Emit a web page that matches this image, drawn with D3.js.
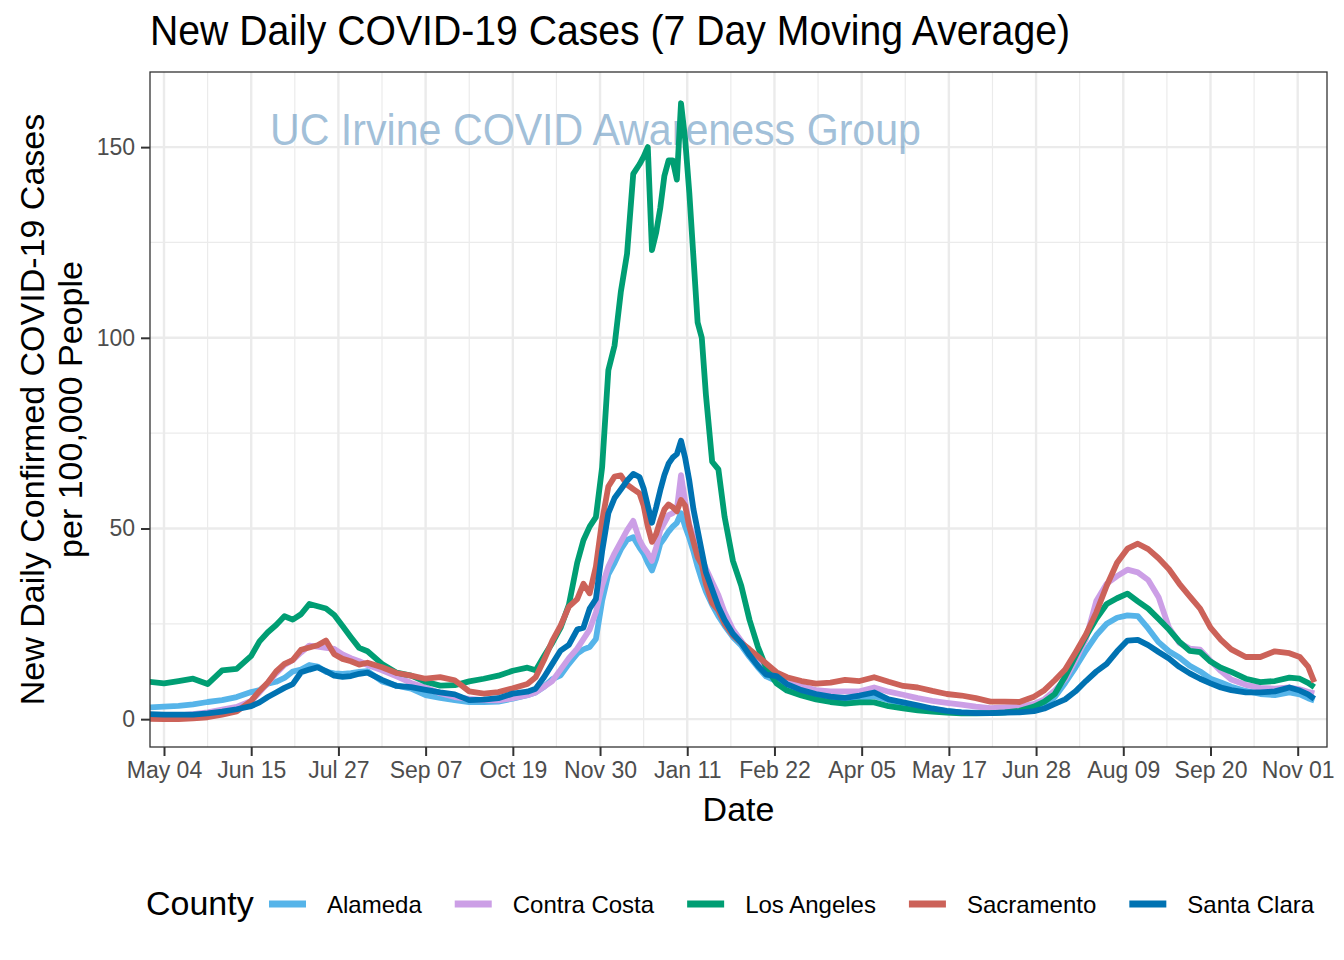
<!DOCTYPE html>
<html><head><meta charset="utf-8">
<script src="https://cdn.jsdelivr.net/npm/d3@7"></script>
<style>
body{margin:0;background:#fff}
svg{display:block}
text{font-family:"Liberation Sans", Arial, Helvetica, sans-serif}
</style>
</head><body>
<svg id="chart" width="1344" height="960"></svg>
<script>
// ---------------- DATA ----------------
const dates = [
"2020-04-27","2020-05-04","2020-05-11","2020-05-18","2020-05-25","2020-06-01","2020-06-08","2020-06-15",
"2020-06-19","2020-06-23","2020-06-27","2020-07-01","2020-07-05","2020-07-09","2020-07-13","2020-07-17","2020-07-21","2020-07-25","2020-07-29","2020-08-02","2020-08-06","2020-08-10",
"2020-08-17","2020-08-24","2020-08-31","2020-09-07","2020-09-14","2020-09-21","2020-09-28","2020-10-05","2020-10-12","2020-10-19","2020-10-26",
"2020-10-30","2020-11-03","2020-11-07","2020-11-11","2020-11-15","2020-11-19",
"2020-11-22","2020-11-25","2020-11-28","2020-12-01","2020-12-04","2020-12-07","2020-12-10","2020-12-13","2020-12-16","2020-12-19",
"2020-12-21","2020-12-23","2020-12-25","2020-12-27","2020-12-29","2020-12-31","2021-01-02","2021-01-04","2021-01-06","2021-01-08","2021-01-10","2021-01-12","2021-01-14","2021-01-16","2021-01-18","2021-01-20",
"2021-01-23","2021-01-26","2021-01-29",
"2021-02-02","2021-02-06","2021-02-10","2021-02-14","2021-02-18",
"2021-02-23","2021-02-28",
"2021-03-07","2021-03-14","2021-03-21","2021-03-28","2021-04-04","2021-04-11","2021-04-18","2021-04-25","2021-05-02","2021-05-09","2021-05-16","2021-05-23","2021-05-30","2021-06-06","2021-06-13","2021-06-20","2021-06-27",
"2021-07-02","2021-07-07","2021-07-12","2021-07-17","2021-07-22","2021-07-27","2021-08-01","2021-08-06","2021-08-11","2021-08-16","2021-08-21","2021-08-26","2021-08-31","2021-09-05","2021-09-10","2021-09-15","2021-09-20","2021-09-25","2021-09-30",
"2021-10-07","2021-10-14","2021-10-21","2021-10-28",
"2021-11-02","2021-11-06","2021-11-09"
];

const alameda = [
3.1,3.3,3.5,3.9,4.5,5.0,5.8,7.1,
7.6,9.3,9.8,10.8,12.5,13.0,14.2,13.8,12.4,12.0,11.9,12.1,12.4,12.6,
9.9,8.8,8.0,6.3,5.6,5.0,4.5,4.5,4.6,5.4,6.3,
7.0,8.5,10.5,11.5,14.5,17.2,
18.3,18.9,21.0,31.0,38.0,41.0,44.5,47.0,47.7,45.0,
43.4,41.0,39.0,42.0,46.0,47.5,49.2,50.5,51.5,54.0,50.5,47.5,44.0,40.0,36.5,33.5,
30.0,27.0,24.5,
21.5,19.3,16.3,13.6,11.2,
10.0,8.3,
7.0,6.0,5.3,5.0,5.3,6.0,5.0,4.0,3.2,2.6,2.1,1.8,1.7,1.7,1.8,2.0,2.3,
3.5,5.8,9.5,13.6,18.0,22.0,25.0,26.6,27.2,27.0,23.8,20.2,17.8,16.2,14.0,12.5,10.6,9.6,8.5,
7.4,6.6,6.3,7.0,
6.5,5.5,4.9
];

const contraCosta = [
0.6,0.8,1.0,1.3,1.8,2.5,3.2,4.8,
7.0,9.5,12.0,14.2,15.5,17.5,19.3,19.0,18.7,18.4,17.0,16.0,15.2,14.2,
12.8,11.2,9.5,8.3,6.8,5.8,5.3,5.0,4.9,5.5,6.3,
7.0,8.5,10.0,13.0,16.0,18.5,
21.0,23.5,28.0,35.0,40.0,43.5,46.5,49.5,52.0,47.0,
45.0,43.5,41.5,45.0,49.5,51.5,53.5,54.0,55.0,64.0,57.0,51.0,48.0,45.0,42.0,39.5,
36.0,32.5,28.0,
23.5,20.5,17.5,15.0,12.8,
11.5,10.0,
8.6,7.6,7.3,7.3,7.3,8.3,7.2,6.4,5.5,4.8,4.3,3.8,3.3,2.9,3.1,3.2,4.0,
5.2,7.5,10.5,15.5,21.0,31.0,35.5,37.5,39.2,38.5,36.5,32.0,24.0,20.0,18.5,18.2,15.3,12.6,10.4,
9.0,8.2,8.0,8.3,
7.8,7.2,6.8
];

const losAngeles = [
9.8,9.4,10.0,10.6,9.2,12.8,13.2,16.6,
20.4,22.8,24.7,27.0,26.1,27.5,30.2,29.6,29.0,27.3,24.4,21.5,18.7,17.8,
14.5,12.2,11.4,9.8,8.8,8.9,9.9,10.6,11.4,12.7,13.5,
12.8,16.5,20.0,24.0,30.0,41.0,
46.9,50.5,53.0,66.0,91.5,98.0,112.0,122.0,143.0,145.5,
147.5,150.0,123.0,127.5,134.0,142.5,146.5,146.5,141.5,161.5,152.0,138.0,121.0,104.0,100.0,85.0,
67.5,65.5,53.0,
41.5,35.0,26.0,19.0,13.5,
9.4,7.5,
6.2,5.2,4.5,4.1,4.4,4.4,3.4,2.8,2.3,2.0,1.7,1.5,1.5,1.6,1.8,2.2,3.3,
4.6,6.6,11.2,16.6,21.7,26.3,30.2,31.7,32.9,30.9,29.0,26.3,23.5,20.3,17.9,17.6,15.1,13.5,12.4,
10.6,9.7,10.0,10.9,
10.6,9.5,8.4
];

const sacramento = [
0.1,0.0,0.0,0.2,0.5,1.2,2.0,4.8,
7.4,9.6,12.5,14.5,15.5,18.2,18.8,19.4,20.6,17.0,15.8,15.2,14.3,14.8,
13.6,12.1,11.4,10.6,11.0,10.2,7.3,6.7,7.1,8.1,9.2,
11.0,15.5,20.5,24.5,29.5,31.5,
35.5,33.0,40.0,52.0,61.0,63.6,63.9,61.5,60.3,59.2,
56.0,50.5,46.5,48.5,52.0,55.0,56.3,55.6,54.5,57.5,56.0,50.5,46.5,42.5,40.5,35.5,
30.5,28.5,25.0,
22.0,20.0,18.3,16.5,14.6,
12.3,11.0,
10.0,9.3,9.6,10.3,10.0,11.0,9.8,8.7,8.3,7.4,6.6,6.2,5.5,4.6,4.6,4.5,5.9,
7.6,10.2,13.0,17.5,22.2,28.0,35.0,41.0,44.7,46.0,44.6,42.2,39.3,35.5,32.2,29.0,24.0,20.8,18.3,
16.3,16.3,17.8,17.3,
16.3,13.8,9.7
];

const santaClara = [
1.3,1.2,1.2,1.2,1.5,2.0,2.6,3.4,
4.4,5.8,7.0,8.2,9.2,12.3,13.0,13.6,12.6,11.4,11.1,11.3,11.9,12.2,
10.3,8.7,8.4,7.7,7.0,6.5,5.0,5.1,5.5,6.7,7.2,
8.0,11.0,14.5,18.0,19.5,23.5,
24.0,29.0,31.5,44.0,54.0,58.0,60.2,62.5,64.3,63.5,
60.5,56.0,51.5,55.5,60.0,64.0,67.0,68.6,69.5,73.0,68.5,62.5,55.0,49.5,44.0,38.5,
34.0,29.5,26.0,
22.4,20.0,16.8,14.0,11.7,
11.3,9.2,
7.6,6.6,5.9,5.6,6.2,7.0,5.2,4.4,3.6,2.8,2.2,1.8,1.6,1.6,1.7,1.8,2.1,
2.8,4.0,5.2,7.3,10.0,12.5,14.5,17.8,20.6,20.8,19.4,17.6,15.9,13.7,12.0,10.6,9.4,8.3,7.6,
7.0,7.0,7.3,8.3,
7.5,6.5,5.3
];

const counties = ["Alameda","Contra Costa","Los Angeles","Sacramento","Santa Clara"];
const countyValues = [alameda, contraCosta, losAngeles, sacramento, santaClara];
const countyColors = ["#56B4E9","#CC9FE6","#009E73","#CC6259","#0072B2"];

const xTickDates = ["2020-05-04","2020-06-15","2020-07-27","2020-09-07","2020-10-19","2020-11-30","2021-01-11",
                    "2021-02-22","2021-04-05","2021-05-17","2021-06-28","2021-08-09","2021-09-20","2021-11-01"];
const xTickLabels = ["May 04","Jun 15","Jul 27","Sep 07","Oct 19","Nov 30","Jan 11",
                     "Feb 22","Apr 05","May 17","Jun 28","Aug 09","Sep 20","Nov 01"];
const yTicks = [0, 50, 100, 150];
const yMinorTicks = [25, 75, 125];

const titleText = "New Daily COVID-19 Cases (7 Day Moving Average)";
const yTitle1 = "New Daily Confirmed COVID-19 Cases";
const yTitle2 = "per 100,000 People";
const xTitle = "Date";
const legendTitle = "County";
const watermark = "UC Irvine COVID Awareness Group";

// ---------------- CHART ----------------
const parse = d3.utcParse("%Y-%m-%d");
const svg = d3.select("#chart");
const P = {left:150, right:1327, top:72, bottom:747};

const x = d3.scaleUtc()
  .domain([new Date(Date.UTC(2020,3,27,6,11)), new Date(Date.UTC(2021,10,15,2,38))])
  .range([P.left, P.right]);
const y = d3.scaleLinear().domain([-7.3, 169.7]).range([P.bottom, P.top]);

svg.append("rect").attr("width",1344).attr("height",960).attr("fill","#fff");

svg.append("defs").append("clipPath").attr("id","clip")
  .append("rect").attr("x",P.left).attr("y",P.top)
  .attr("width",P.right-P.left).attr("height",P.bottom-P.top);

const tickD = xTickDates.map(parse);
const minorD = tickD.map(d => d3.utcDay.offset(d, 21))
  .concat([d3.utcDay.offset(tickD[0], -21)])
  .filter(d => d >= x.domain()[0] && d <= x.domain()[1]);

const grid = svg.append("g");
grid.selectAll(".vmin").data(minorD).join("line")
  .attr("x1", d => x(d)).attr("x2", d => x(d)).attr("y1",P.top).attr("y2",P.bottom)
  .attr("stroke","#EBEBEB").attr("stroke-width",1.2);
grid.selectAll(".hmin").data(yMinorTicks).join("line")
  .attr("y1", d => y(d)).attr("y2", d => y(d)).attr("x1",P.left).attr("x2",P.right)
  .attr("stroke","#EBEBEB").attr("stroke-width",1.2);
grid.selectAll(".vmaj").data(tickD).join("line")
  .attr("x1", d => x(d)).attr("x2", d => x(d)).attr("y1",P.top).attr("y2",P.bottom)
  .attr("stroke","#EBEBEB").attr("stroke-width",2.4);
grid.selectAll(".hmaj").data(yTicks).join("line")
  .attr("y1", d => y(d)).attr("y2", d => y(d)).attr("x1",P.left).attr("x2",P.right)
  .attr("stroke","#EBEBEB").attr("stroke-width",2.4);

// watermark
svg.append("text").attr("x",270).attr("y",145)
  .attr("font-size",44).attr("fill","#4682B4").attr("fill-opacity",0.5)
  .attr("textLength",651).attr("lengthAdjust","spacingAndGlyphs")
  .text(watermark);

// lines
const line = d3.line().x(d => x(d.date)).y(d => y(d.value));
const parsedDates = dates.map(parse);
const lines = svg.append("g").attr("clip-path","url(#clip)");
counties.forEach((c, i) => {
  const vals = countyValues[i];
  const pts = parsedDates.map((d, j) => ({date:d, value:vals[j]})).filter(p => p.value != null);
  lines.append("path").datum(pts).attr("d", line)
    .attr("fill","none").attr("stroke",countyColors[i]).attr("stroke-width",5.8)
    .attr("stroke-linejoin","round").attr("stroke-linecap","butt");
});

// panel border
svg.append("rect").attr("x",P.left).attr("y",P.top)
  .attr("width",P.right-P.left).attr("height",P.bottom-P.top)
  .attr("fill","none").attr("stroke","#333333").attr("stroke-width",1.3);

// axes
const xAxis = d3.axisBottom(x).tickValues(tickD)
  .tickFormat((d,i) => xTickLabels[i]).tickSize(9).tickPadding(6);
const gx = svg.append("g").attr("transform",`translate(0,${P.bottom})`).call(xAxis);
gx.select(".domain").remove();
gx.selectAll("line").attr("stroke","#333333").attr("stroke-width",2);
gx.selectAll("text").attr("font-size",23).attr("fill","#4D4D4D")
  .attr("font-family","Liberation Sans, Arial, sans-serif");

const yAxis = d3.axisLeft(y).tickValues(yTicks).tickSize(9).tickPadding(6);
const gy = svg.append("g").attr("transform",`translate(${P.left},0)`).call(yAxis);
gy.select(".domain").remove();
gy.selectAll("line").attr("stroke","#333333").attr("stroke-width",2);
gy.selectAll("text").attr("font-size",23).attr("fill","#4D4D4D")
  .attr("font-family","Liberation Sans, Arial, sans-serif");

// titles
svg.append("text").attr("x",150).attr("y",45).attr("font-size",42).attr("fill","#000")
  .attr("textLength",920).attr("lengthAdjust","spacingAndGlyphs").text(titleText);

svg.append("text").attr("x",(P.left+P.right)/2).attr("y",821).attr("text-anchor","middle")
  .attr("font-size",34).attr("fill","#000").text(xTitle);

const cy = (P.top+P.bottom)/2;
svg.append("text").attr("transform",`translate(44,${cy}) rotate(-90)`).attr("text-anchor","middle")
  .attr("font-size",34).attr("fill","#000").text(yTitle1);
svg.append("text").attr("transform",`translate(82,${cy}) rotate(-90)`).attr("text-anchor","middle")
  .attr("font-size",34).attr("fill","#000").text(yTitle2);

// legend
const lg = svg.append("g");
lg.append("text").attr("x",146).attr("y",915).attr("font-size",34).attr("fill","#000").text(legendTitle);
let lx = 269;
counties.forEach((c, i) => {
  lg.append("line").attr("x1",lx).attr("x2",lx+37).attr("y1",904).attr("y2",904)
    .attr("stroke",countyColors[i]).attr("stroke-width",7);
  const t = lg.append("text").attr("x",lx+58).attr("y",913).attr("font-size",24)
    .attr("fill","#000").text(c);
  lx = lx + 58 + t.node().getComputedTextLength() + 33;
});
</script>
</body></html>
